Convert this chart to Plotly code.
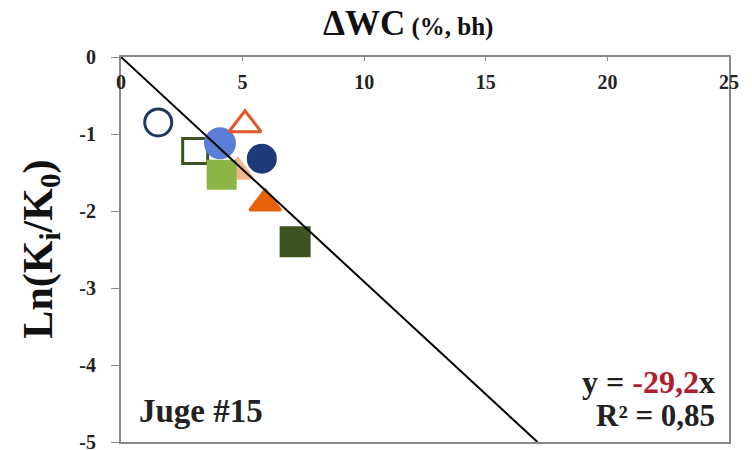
import plotly.graph_objects as go

# Data
dwc = [1.53, 3.05, 4.07, 5.10, 5.79, 4.80, 4.14, 5.93, 7.16]
ln_ratio = [-0.85, -1.22, -1.12, -0.88, -1.32, -1.49, -1.53, -1.90, -2.40]
symbols = ["circle-open", "square-open", "circle", "triangle-up-open", "circle",
           "triangle-up", "square", "triangle-up", "square"]
colors = ["#1F3864", "#3B5323", "#5B7FD6", "#E2572A", "#1F3A78",
          "#F5B88E", "#8BB545", "#E8620E", "#3E5420"]
sizes = [27, 25, 29, 28, 27, 26, 27, 27, 28]

slope = -0.292          # fitted slope (per % of water content)
r2 = 0.85
x_ticks = [0, 5, 10, 15, 20, 25]
y_ticks = [0, -1, -2, -3, -4, -5]

FONT = "Liberation Serif"
TICKFONT = dict(family=FONT, size=20, color="#222", weight="bold")

fig = go.Figure()

fig.add_trace(go.Scatter(
    x=dwc, y=ln_ratio, mode="markers",
    marker=dict(symbol=symbols, color=colors, size=sizes, opacity=1,
                line=dict(color=colors, width=3)),
    opacity=1, showlegend=False, hoverinfo="x+y"))

# Trend line y = slope * x, from 0 until the bottom of the axis
x_end = y_ticks[-1] / slope
fig.add_trace(go.Scatter(
    x=[0, x_end], y=[0, slope * x_end], mode="lines",
    line=dict(color="black", width=2), showlegend=False, hoverinfo="skip"))

fig.update_layout(
    width=752, height=450,
    margin=dict(l=121, r=23, t=57, b=8),
    paper_bgcolor="white", plot_bgcolor="white",
    font=dict(family=FONT, color="#222"),
    xaxis=dict(range=[0, 25], side="top", tickvals=x_ticks,
               ticklabelposition="inside", ticklabeloverflow="allow",
               ticklabelstandoff=15,
               ticks="inside", ticklen=4,
               tickcolor="#888", showline=True, linecolor="#888", linewidth=2,
               mirror=True, showgrid=False, zeroline=False,
               tickfont=TICKFONT, automargin=False, fixedrange=True),
    yaxis=dict(range=[-5, 0], tickvals=y_ticks,
               ticktext=[str(v) for v in y_ticks],
               ticklabeloverflow="allow", ticklabelstandoff=11,
               ticks="outside", ticklen=8, tickcolor="#888",
               showline=True, linecolor="#888", linewidth=2, mirror=True,
               showgrid=False, zeroline=False,
               tickfont=TICKFONT, automargin=False, fixedrange=True),
    annotations=[
        dict(text="<b>ΔWC</b><span style='font-size:25px'><b> (%, bh)</b></span>",
             xref="paper", yref="paper", x=0.472, y=1.0, yshift=34,
             xanchor="center", yanchor="middle",
             showarrow=False, font=dict(family=FONT, size=35, color="#111")),
        dict(text="<b>Ln(K<sub>i</sub>/K<sub>0</sub>)</b>",
             xref="paper", yref="paper", x=-0.133, y=0.5, textangle=-90,
             xanchor="center", yanchor="middle",
             showarrow=False, font=dict(family=FONT, size=42, color="#111")),
        dict(text="<b>Juge #15</b>", xref="paper", yref="paper",
             x=0.027, y=0.08, xanchor="left", yanchor="middle",
             showarrow=False, font=dict(family=FONT, size=33, color="#222")),
        dict(text="<b>y = <span style='color:#B01E2E'>-29,2</span>x</b>",
             xref="paper", yref="paper", x=0.98, y=0.155,
             xanchor="right", yanchor="middle",
             showarrow=False, font=dict(family=FONT, size=32, color="#222")),
        dict(text=f"<b>R² = {str(r2).replace('.', ',')}</b>",
             xref="paper", yref="paper", x=0.98, y=0.068,
             xanchor="right", yanchor="middle",
             showarrow=False, font=dict(family=FONT, size=31, color="#222")),
    ],
)

fig.write_html("out.html", config={"displayModeBar": False},
               post_script="document.body.style.margin='0';")
